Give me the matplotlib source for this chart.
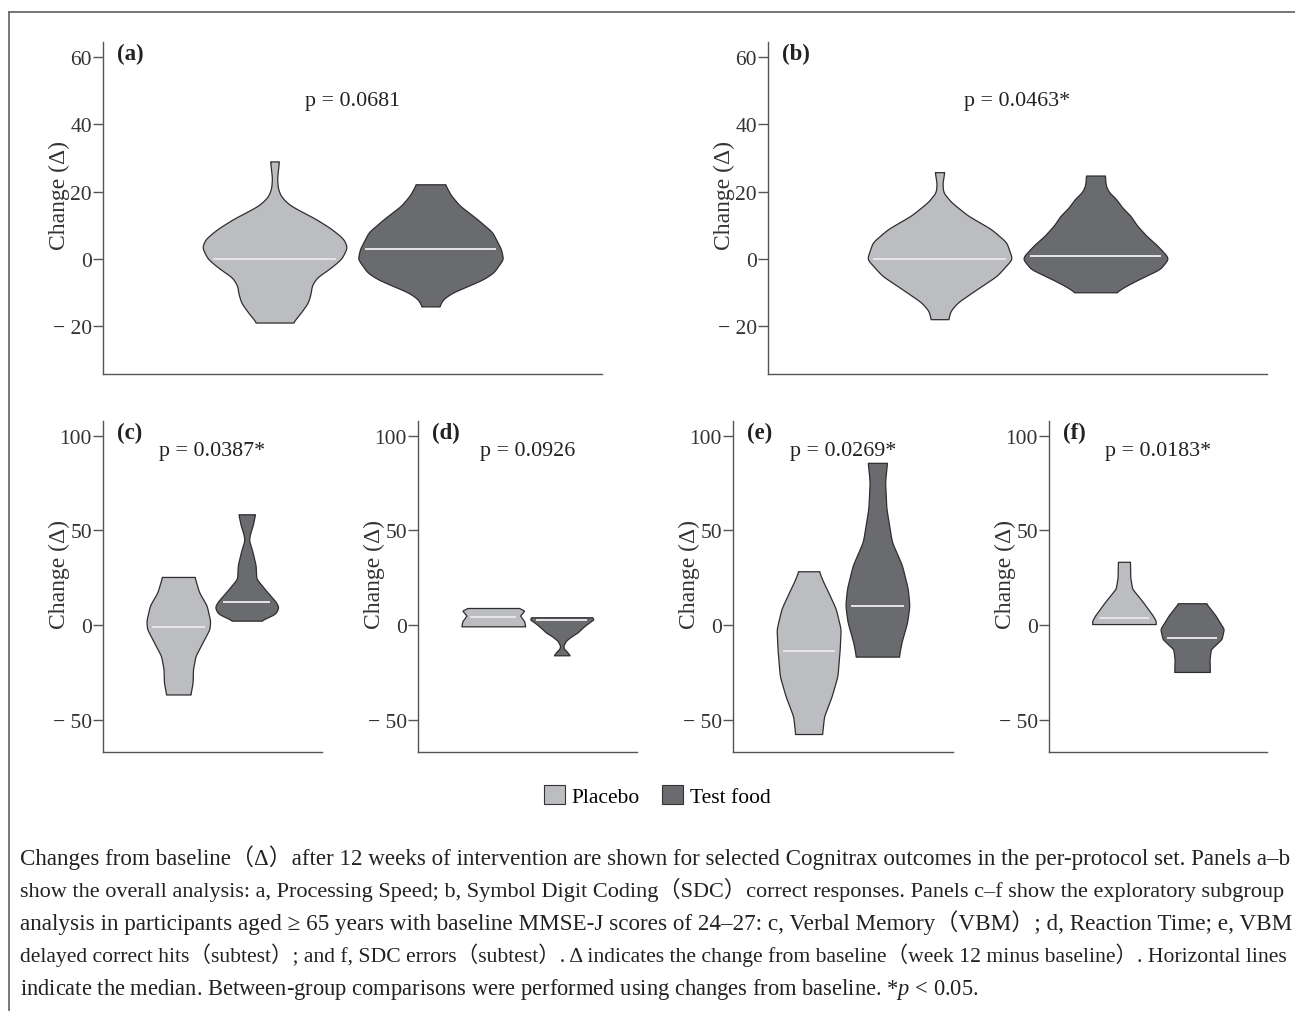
import matplotlib
matplotlib.use("Agg")
import matplotlib.pyplot as plt
import numpy as np
from matplotlib.lines import Line2D
from matplotlib.patches import Patch

plt.rcParams["font.family"] = ["Liberation Serif", "Noto Sans CJK JP"]
plt.rcParams["mathtext.fontset"] = "custom"
plt.rcParams["mathtext.rm"] = "Liberation Serif"
plt.rcParams["mathtext.it"] = "Liberation Serif:italic"

groups = ["Placebo", "Test food"]
group_colors = ["#bcbdc1", "#6a6b6f"]
panel_tags = ["(a)", "(b)", "(c)", "(d)", "(e)", "(f)"]
p_texts = ["p = 0.0681", "p = 0.0463*", "p = 0.0387*", "p = 0.0926", "p = 0.0269*", "p = 0.0183*"]
y_label = "Change (Δ)"

top_yticks = [-20, 0, 20, 40, 60]
bottom_yticks = [-50, 0, 50, 100]

# violin outlines: y level and relative half-width (1 = widest)
a_placebo_y = [29.0, 27.0, 24.0, 21.0, 18.5, 16.0, 14.0, 12.0, 9.0, 6.0, 3.5, 0.0, -3.0, -5.5, -8.0, -10.0, -13.0, -16.0, -18.9]
a_placebo_w = [0.06, 0.05, 0.035, 0.045, 0.09, 0.21, 0.38, 0.56, 0.78, 0.95, 1.0, 0.92, 0.75, 0.58, 0.51, 0.50, 0.46, 0.36, 0.25]
a_test_y = [22.2, 19.0, 15.9, 11.9, 8.0, 3.0, 0.0, -4.0, -6.0, -8.0, -10.0, -12.0, -14.1]
a_test_w = [0.20, 0.28, 0.40, 0.64, 0.85, 0.97, 1.0, 0.87, 0.73, 0.52, 0.30, 0.17, 0.12]

b_placebo_y = [25.8, 22.5, 19.8, 16.9, 12.9, 8.9, 5.0, 0.0, -5.0, -8.9, -12.9, -15.4, -17.9]
b_placebo_w = [0.065, 0.04, 0.05, 0.16, 0.39, 0.71, 0.92, 1.0, 0.79, 0.52, 0.25, 0.15, 0.12]
b_test_y = [24.8, 22.0, 20.0, 17.9, 15.0, 12.9, 10.0, 6.9, 4.0, 1.0, 0.0, -3.0, -6.0, -8.0, -9.9]
b_test_w = [0.13, 0.14, 0.18, 0.28, 0.38, 0.48, 0.57, 0.70, 0.85, 0.98, 1.0, 0.89, 0.60, 0.42, 0.28]

c_placebo_y = [25.4, 17.4, 10.3, 2.3, -2.1, -9.2, -16.3, -23.4, -30.5, -36.7]
c_placebo_w = [0.51, 0.65, 0.89, 1.0, 0.98, 0.76, 0.54, 0.46, 0.45, 0.38]
c_test_y = [58.5, 52.8, 48.0, 44.9, 38.7, 31.6, 24.5, 18.3, 12.1, 9.4, 5.9, 2.3]
c_test_w = [0.26, 0.19, 0.10, 0.07, 0.18, 0.28, 0.30, 0.60, 0.92, 1.0, 0.90, 0.43]

d_placebo_y = [9.0, 7.6, 5.0, 2.0, -0.7]
d_placebo_w = [0.81, 0.97, 0.84, 0.97, 1.0]
d_test_y = [4.1, 3.0, 1.4, -1.0, -3.9, -6.0, -8.3, -11.0, -12.5, -14.0, -16.0]
d_test_w = [0.95, 1.0, 0.86, 0.68, 0.50, 0.30, 0.13, 0.05, 0.07, 0.16, 0.25]

e_placebo_y = [28.4, 23.0, 17.4, 8.5, -2.1, -12.8, -27.0, -37.6, -48.3, -57.6]
e_placebo_w = [0.32, 0.45, 0.61, 0.85, 1.0, 0.97, 0.90, 0.72, 0.48, 0.42]
e_test_y = [85.7, 75.9, 61.7, 44.0, 31.5, 19.2, 10.3, 1.4, -9.2, -16.7]
e_test_w = [0.30, 0.24, 0.28, 0.45, 0.77, 0.95, 1.0, 0.93, 0.75, 0.67]

f_placebo_y = [33.4, 25.0, 19.2, 12.1, 5.0, 2.3, 0.5]
f_placebo_w = [0.19, 0.20, 0.26, 0.60, 0.91, 1.0, 1.0]
f_test_y = [11.5, 5.0, -2.1, -7.4, -12.8, -18.1, -24.8]
f_test_w = [0.44, 0.74, 1.0, 0.93, 0.59, 0.55, 0.56]

placebo_medians = [0.0, 0.0, -1.2, 4.1, -13.7, 3.7]
test_medians = [3.0, 1.0, 12.4, 2.5, 10.3, -6.8]

caption_lines = [
    "Changes from baseline（Δ）after 12 weeks of intervention are shown for selected Cognitrax outcomes in the per-protocol set. Panels a–b",
    "show the overall analysis: a, Processing Speed; b, Symbol Digit Coding（SDC）correct responses. Panels c–f show the exploratory subgroup",
    "analysis in participants aged ≥ 65 years with baseline MMSE-J scores of 24–27: c, Verbal Memory（VBM）; d, Reaction Time; e, VBM",
    "delayed correct hits（subtest）; and f, SDC errors（subtest）. Δ indicates the change from baseline（week 12 minus baseline）. Horizontal lines",
    "indicate the median. Between-group comparisons were performed using changes from baseline. *$p$ < 0.05.",
]

outlines = [
    [(a_placebo_y, a_placebo_w), (a_test_y, a_test_w)],
    [(b_placebo_y, b_placebo_w), (b_test_y, b_test_w)],
    [(c_placebo_y, c_placebo_w), (c_test_y, c_test_w)],
    [(d_placebo_y, d_placebo_w), (d_test_y, d_test_w)],
    [(e_placebo_y, e_placebo_w), (e_test_y, e_test_w)],
    [(f_placebo_y, f_placebo_w), (f_test_y, f_test_w)],
]

W, H = 1295, 1012
HALF_WIDTH = 0.466
XLIM = (-1.1, 2.1)


def box(left, right, top, bottom):
    return [left / W, 1 - bottom / H, (right - left) / W, (bottom - top) / H]


def fmt_tick(v):
    return f"\u2212 {abs(v)}" if v < 0 else str(v)


def draw_violin(ax, pos, ys, ws, median, color, px_per_unit):
    ys = np.asarray(ys, dtype=float)
    ws = np.asarray(ws, dtype=float)
    order = np.argsort(ys)
    yy = np.linspace(ys.min(), ys.max(), 400)
    ww = np.interp(yy, ys[order], ws[order])
    # smooth the outline a little so it reads like a kde curve
    k = np.exp(-0.5 * np.linspace(-3, 3, 37) ** 2)
    k /= k.sum()
    ww = np.convolve(np.pad(ww, 18, mode="edge"), k, mode="valid") * HALF_WIDTH
    ax.fill_betweenx(yy, pos - ww, pos + ww, facecolor=color, edgecolor="#2e2e2e", linewidth=0.9, zorder=2)
    local = np.interp(median, yy, ww)
    half = max(local - 6 / px_per_unit, 0.02)
    ax.plot([pos - half, pos + half], [median, median], color="#e6e6e6", linewidth=1.4, zorder=3)


fig = plt.figure(figsize=(W / 100, H / 100), dpi=100)

axes_boxes = [
    box(103, 602, 43, 375),
    box(768, 1267, 43, 375),
    box(103, 322, 422, 753),
    box(418, 637, 422, 753),
    box(733, 953, 422, 753),
    box(1049, 1267, 422, 753),
]

for i, rect in enumerate(axes_boxes):
    ax = fig.add_axes(rect)
    top_row = i < 2
    px_per_unit = rect[2] * W / (XLIM[1] - XLIM[0])
    for j in range(2):
        ys, ws = outlines[i][j]
        med = placebo_medians[i] if j == 0 else test_medians[i]
        draw_violin(ax, j, ys, ws, med, group_colors[j], px_per_unit)

    ax.set_xlim(*XLIM)
    ticks = top_yticks if top_row else bottom_yticks
    ax.set_ylim((-34.2, 64.5) if top_row else (-67.1, 107.8))
    ax.set_yticks(ticks)
    ax.set_yticklabels([fmt_tick(t) for t in ticks])
    ax.set_xticks([])
    for side in ["top", "right"]:
        ax.spines[side].set_visible(False)
    for side in ["left", "bottom"]:
        ax.spines[side].set_color("#555555")
        ax.spines[side].set_linewidth(1.0)
    ax.tick_params(axis="y", length=7, width=1.0, color="#555555", pad=1,
                   labelsize=15.5, labelcolor="#333333")

    ax.set_ylabel(y_label, fontsize=17, color="#333333")
    ax.yaxis.set_label_coords(-0.067 if top_row else -0.152, 0.54)

    ax.annotate(panel_tags[i], xy=(0, 1), xycoords="axes fraction",
                xytext=(10, -8.5), textcoords="offset points",
                fontsize=16.5, fontweight="bold", color="#222222", va="center", ha="left")
    ax.text(0.5, 0.825 if top_row else 0.912, p_texts[i], transform=ax.get_xaxis_transform(),
            ha="center", va="center", fontsize=15.8, color="#222222")

handles = [Patch(facecolor=c, edgecolor="#333333", linewidth=0.8) for c in group_colors]
fig.legend(handles, groups, loc="center", bbox_to_anchor=(657 / W, 1 - 797 / H), ncol=2,
           frameon=False, fontsize=15.5, handlelength=1.0, handleheight=1.0,
           handletextpad=0.3, columnspacing=1.0)

# outer frame: only the top and left edges fall inside the image
fig.add_artist(Line2D([9 / W, 1], [1 - 12.5 / H, 1 - 12.5 / H], transform=fig.transFigure, color="#6b6b6b", linewidth=1.3))
fig.add_artist(Line2D([9 / W, 9 / W], [0, 1 - 12.5 / H], transform=fig.transFigure, color="#6b6b6b", linewidth=1.3))

# caption, each full line stretched to the right margin
renderer = fig.canvas.get_renderer()
baselines = [865, 897.5, 930, 962.5, 995]
sizes = []
for i, line in enumerate(caption_lines):
    t = fig.text(20 / W, 1 - baselines[i] / H, line, fontsize=15, va="baseline", ha="left", color="#222222")
    if i < 4:
        width = t.get_window_extent(renderer).width
        size = 15 * (1295 - 20) / width
        t.set_fontsize(size)
        sizes.append(size)
    else:
        t.set_fontsize(np.mean(sizes))

fig.savefig("out.png", dpi=100)
